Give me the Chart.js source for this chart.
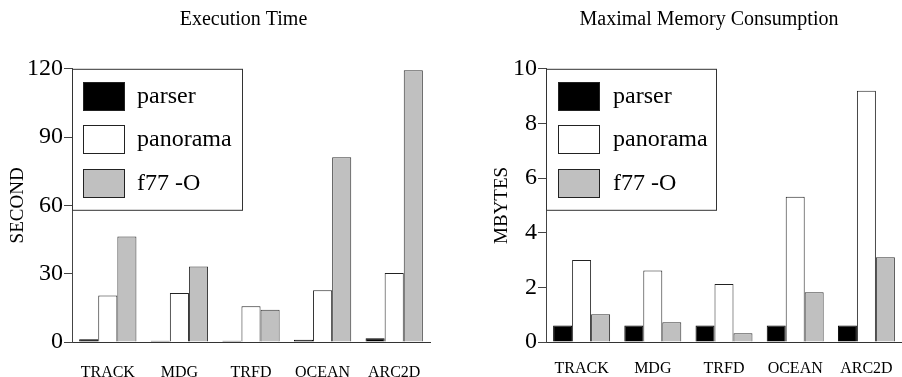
<!DOCTYPE html>
<html>
<head>
<meta charset="utf-8">
<script src="https://cdn.jsdelivr.net/npm/chart.js@4"></script>
<style>
html,body{margin:0;padding:0;background:#fff;overflow:hidden;width:902px;height:377px;}
canvas{position:absolute;top:0;}
#c1{left:0;}
#c2{left:485px;}
</style>
</head>
<body>
<canvas id="c1" width="487" height="377"></canvas>
<canvas id="c2" width="448" height="377"></canvas>
<script>
const categories = ['TRACK', 'MDG', 'TRFD', 'OCEAN', 'ARC2D'];
const seriesNames = ['parser', 'panorama', 'f77 -O'];

const timeParser   = [1.2, 0.5, 0.5, 1.0, 1.6];
const timePanorama = [20.4, 21.5, 15.7, 22.7, 30.3];
const timeF77      = [46.3, 33.2, 14.2, 81.2, 119.4];

const memParser   = [0.6, 0.6, 0.6, 0.6, 0.6];
const memPanorama = [3.0, 2.62, 2.12, 5.32, 9.2];
const memF77      = [1.02, 0.72, 0.32, 1.82, 3.1];

const timeTicks = [0, 30, 60, 90, 120];
const memTicks = [0, 2, 4, 6, 8, 10];

const FONT = "'Liberation Serif', 'Times New Roman', serif";
const fills = ['#000000', '#ffffff', '#c0c0c0'];
const borders = ['#000000', '#222222', '#333333'];

Chart.defaults.font.family = FONT;
Chart.defaults.color = '#000';

const boxLegend = {
  id: 'boxLegend',
  afterDraw(chart, args, opts) {
    const ctx = chart.ctx;
    const a = chart.chartArea;
    const x0 = a.left + 0.5, y0 = a.top + 0.5;
    ctx.save();
    ctx.fillStyle = '#fff';
    ctx.fillRect(x0, y0, opts.w, opts.h);
    ctx.strokeStyle = '#333';
    ctx.lineWidth = 1;
    ctx.strokeRect(x0, y0, opts.w, opts.h);
    ctx.font = '24px ' + FONT;
    ctx.textBaseline = 'middle';
    ctx.textAlign = 'left';
    chart.data.datasets.forEach((ds, i) => {
      const sy = Math.round(a.top + 13 + i * 43.5) + 0.5;
      const sx = Math.round(a.left + opts.sx) + 0.5;
      ctx.fillStyle = ds.backgroundColor;
      ctx.fillRect(sx, sy, 41, 28);
      ctx.strokeStyle = '#222';
      ctx.strokeRect(sx, sy, 41, 28);
      ctx.fillStyle = '#000';
      ctx.fillText(ds.label, a.left + opts.tx, sy + 14);
    });
    ctx.restore();
  }
};

function makeChart(id, title, yTitle, vals, ticks, maxV, step, yW, rW, yTitlePad, xPad, legend) {
  return new Chart(document.getElementById(id), {
    type: 'bar',
    data: {
      labels: categories,
      datasets: vals.map((v, i) => ({
        label: seriesNames[i],
        data: v,
        backgroundColor: fills[i],
        borderColor: borders[i],
        borderWidth: 1,
        barPercentage: 1,
        categoryPercentage: 0.8
      }))
    },
    options: {
      responsive: false,
      devicePixelRatio: 1,
      animation: false,
      layout: { padding: 0 },
      plugins: {
        legend: { display: false },
        tooltip: { enabled: false },
        title: {
          display: true,
          text: title,
          font: { size: 20, weight: 'normal', family: FONT },
          color: '#000',
          padding: { top: 7.5, bottom: 37.3 }
        },
        boxLegend: legend
      },
      scales: {
        x: {
          grid: { display: false, drawTicks: false },
          border: { display: true, color: '#333', width: 1 },
          ticks: { font: { size: 16, family: FONT }, color: '#000', padding: xPad, maxRotation: 0 },
          afterFit(s) { s.height = 35; }
        },
        y: {
          position: 'left',
          min: 0,
          max: maxV,
          afterBuildTicks(s) { s.ticks = ticks.map(v => ({ value: v })); },
          grid: { drawOnChartArea: false, drawTicks: true, tickLength: 8, color: '#444', lineWidth: 1 },
          border: { display: true, color: '#444', width: 1 },
          ticks: { font: { size: 24, family: FONT }, color: '#000', padding: 1, stepSize: step },
          title: { display: true, text: yTitle, font: { size: 19, family: FONT }, color: '#000', padding: { top: yTitlePad, bottom: 0 } },
          afterFit(s) { s.width = yW; }
        },
        spacer: {
          position: 'right',
          display: true,
          grid: { display: false },
          border: { display: false },
          ticks: { display: false },
          afterFit(s) { s.width = rW; }
        }
      }
    },
    plugins: [boxLegend]
  });
}

makeChart('c1', 'Execution Time', 'SECOND', [timeParser, timePanorama, timeF77], timeTicks, 120, 30, 72, 57, 7, 21, { w: 170, h: 141, sx: 11, tx: 65 });
makeChart('c2', 'Maximal Memory Consumption', 'MBYTES', [memParser, memPanorama, memF77], memTicks, 10, 2, 61, 31, 5.6, 17, { w: 170, h: 141, sx: 12, tx: 67 });
</script>
</body>
</html>
